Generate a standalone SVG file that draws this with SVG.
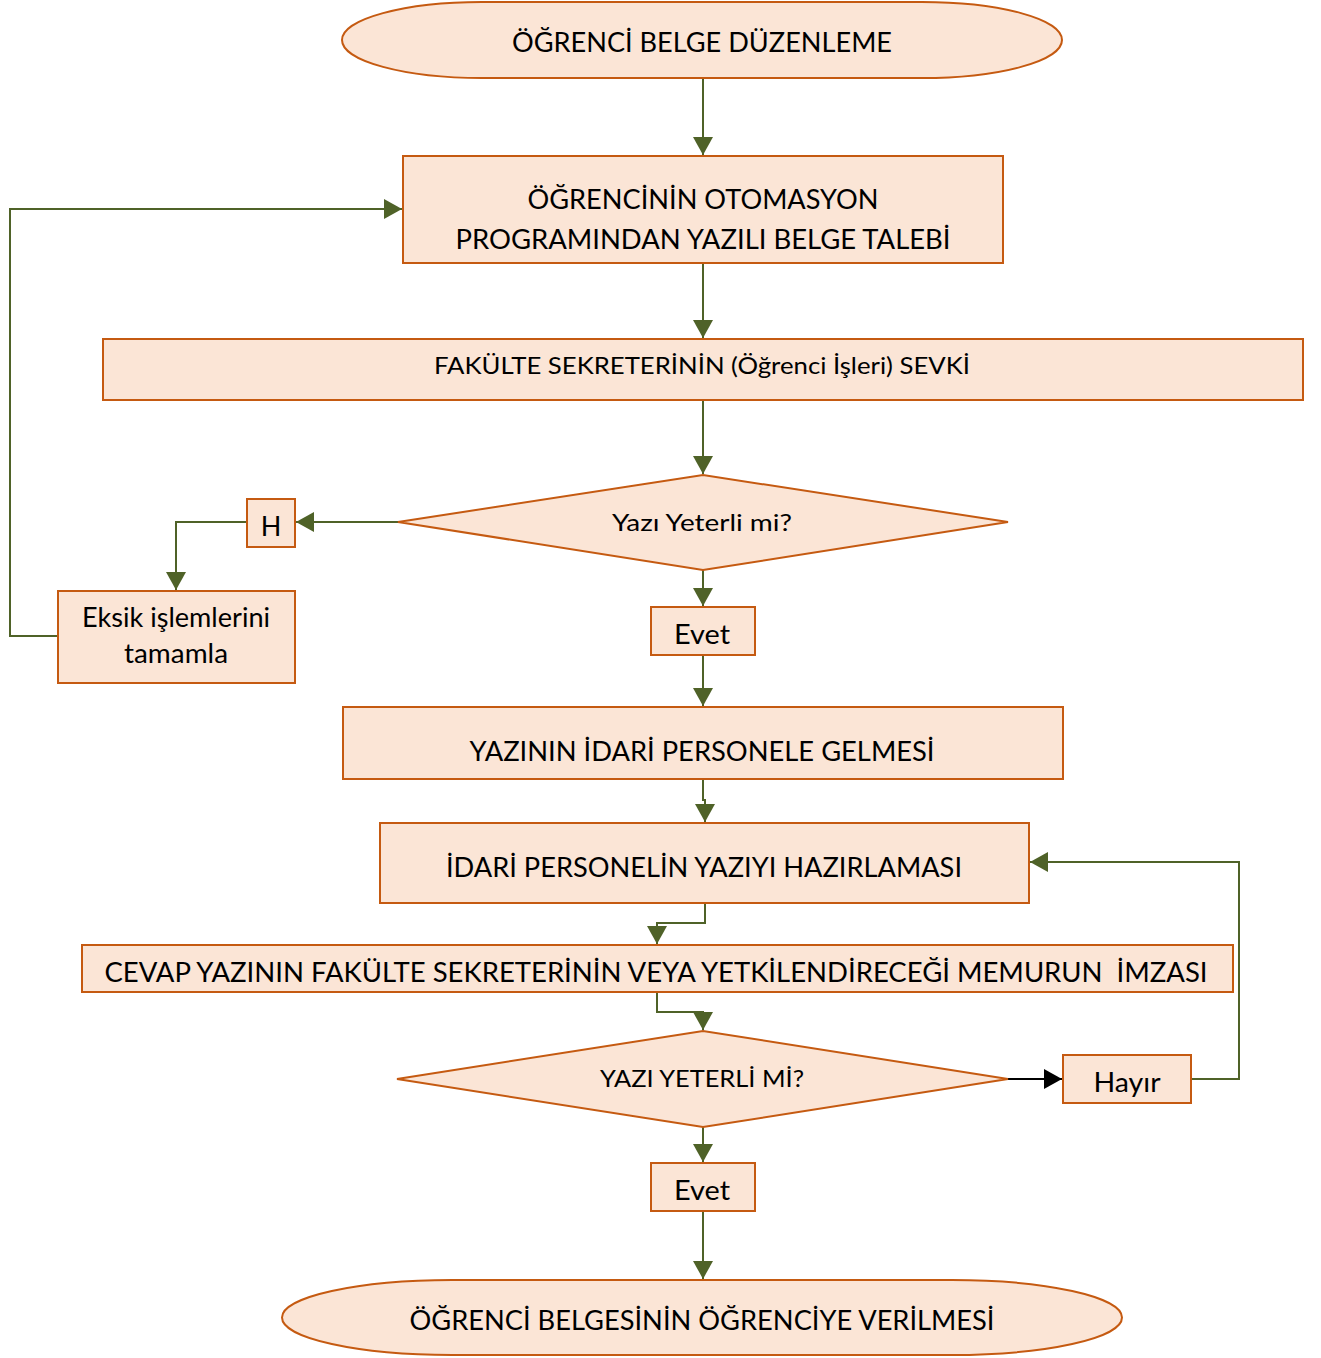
<svg xmlns="http://www.w3.org/2000/svg" width="1321" height="1358" viewBox="0 0 1321 1358">
<style>
.n{fill:#FBE5D6;stroke:#C55A11;stroke-width:2}
.t{font-family:Lato,"Open Sans",sans-serif;fill:#000;text-anchor:middle;dominant-baseline:central}
.c{fill:none;stroke:#4F6228;stroke-width:2}
</style>
<defs>
<marker id="a" markerUnits="userSpaceOnUse" markerWidth="20" markerHeight="20" refX="18" refY="10" orient="auto"><path d="M0,0 L18,10 L0,20 Z" fill="#4F6228"/></marker>
<marker id="b" markerUnits="userSpaceOnUse" markerWidth="20" markerHeight="20" refX="18" refY="10" orient="auto"><path d="M0,0 L18,10 L0,20 Z" fill="#000"/></marker>
</defs>
<g id="connectors">
<path class="c" d="M703,78 V155" marker-end="url(#a)"/>
<path class="c" d="M703,263 V338" marker-end="url(#a)"/>
<path class="c" d="M703,400 V474" marker-end="url(#a)"/>
<path class="c" d="M398,522 H296" marker-end="url(#a)"/>
<path class="c" d="M247,522 H176 V590" marker-end="url(#a)"/>
<path class="c" d="M58,636 H10 V209 H402" marker-end="url(#a)"/>
<path class="c" d="M703,570 V606" marker-end="url(#a)"/>
<path class="c" d="M703,655 V706" marker-end="url(#a)"/>
<path class="c" d="M703,779 V800 H705 V822" marker-end="url(#a)"/>
<path class="c" d="M705,903 V923 H657 V944" marker-end="url(#a)"/>
<path class="c" d="M657,992 V1012 H703 V1030" marker-end="url(#a)"/>
<path d="M1008,1079 H1062" fill="none" stroke="#000" stroke-width="2" marker-end="url(#b)"/>
<path class="c" d="M1191,1079 H1239 V862 H1030" marker-end="url(#a)"/>
<path class="c" d="M703,1127 V1162" marker-end="url(#a)"/>
<path class="c" d="M703,1211 V1279" marker-end="url(#a)"/>
</g>
<g id="start"><rect class="n" x="342" y="2" width="720" height="76" rx="140" ry="38"/><text class="t" x="702" y="41" font-size="27" textLength="380" lengthAdjust="spacingAndGlyphs">ÖĞRENCİ BELGE DÜZENLEME</text></g>
<g id="talep"><rect class="n" x="403" y="156" width="600" height="107"/><text class="t" x="703" y="198" font-size="27" textLength="351" lengthAdjust="spacingAndGlyphs">ÖĞRENCİNİN OTOMASYON</text><text class="t" x="703" y="238" font-size="27" textLength="495" lengthAdjust="spacingAndGlyphs">PROGRAMINDAN YAZILI BELGE TALEBİ</text></g>
<g id="sevk"><rect class="n" x="103" y="339" width="1200" height="61"/><text class="t" x="702" y="364" font-size="24" textLength="536" lengthAdjust="spacingAndGlyphs">FAKÜLTE SEKRETERİNİN (Öğrenci İşleri) SEVKİ</text></g>
<g id="karar1"><polygon class="n" points="398,522 703,475 1008,522 703,570"/><text class="t" x="702" y="521" font-size="24" textLength="180" lengthAdjust="spacingAndGlyphs">Yazı Yeterli mi?</text></g>
<g id="h"><rect class="n" x="247" y="499" width="48" height="48"/><text class="t" x="271" y="525" font-size="27">H</text></g>
<g id="eksik"><rect class="n" x="58" y="591" width="237" height="92"/><text class="t" x="176" y="616" font-size="27" textLength="188" lengthAdjust="spacingAndGlyphs">Eksik işlemlerini</text><text class="t" x="176" y="652" font-size="27" textLength="104" lengthAdjust="spacingAndGlyphs">tamamla</text></g>
<g id="evet1"><rect class="n" x="651" y="607" width="104" height="48"/><text class="t" x="702" y="633" font-size="27" textLength="56" lengthAdjust="spacingAndGlyphs">Evet</text></g>
<g id="gelme"><rect class="n" x="343" y="707" width="720" height="72"/><text class="t" x="702" y="750" font-size="27" textLength="465" lengthAdjust="spacingAndGlyphs">YAZININ İDARİ PERSONELE GELMESİ</text></g>
<g id="hazirlama"><rect class="n" x="380" y="823" width="649" height="80"/><text class="t" x="704" y="866" font-size="27" textLength="516" lengthAdjust="spacingAndGlyphs">İDARİ PERSONELİN YAZIYI HAZIRLAMASI</text></g>
<g id="imza"><rect class="n" x="82" y="945" width="1151" height="47"/><text class="t" x="656" y="971" font-size="27" textLength="1103" lengthAdjust="spacingAndGlyphs" xml:space="preserve">CEVAP YAZININ FAKÜLTE SEKRETERİNİN VEYA YETKİLENDİRECEĞİ MEMURUN  İMZASI</text></g>
<g id="karar2"><polygon class="n" points="397,1079 703,1031 1008,1079 703,1127"/><text class="t" x="702" y="1077" font-size="24" textLength="204" lengthAdjust="spacingAndGlyphs">YAZI YETERLİ Mİ?</text></g>
<g id="hayir"><rect class="n" x="1063" y="1055" width="128" height="48"/><text class="t" x="1127" y="1081" font-size="27" textLength="67" lengthAdjust="spacingAndGlyphs">Hayır</text></g>
<g id="evet2"><rect class="n" x="651" y="1163" width="104" height="48"/><text class="t" x="702" y="1189" font-size="27" textLength="56" lengthAdjust="spacingAndGlyphs">Evet</text></g>
<g id="end"><rect class="n" x="282" y="1280" width="840" height="75" rx="170" ry="37.5"/><text class="t" x="702" y="1319" font-size="27" textLength="585" lengthAdjust="spacingAndGlyphs">ÖĞRENCİ BELGESİNİN ÖĞRENCİYE VERİLMESİ</text></g>
</svg>
